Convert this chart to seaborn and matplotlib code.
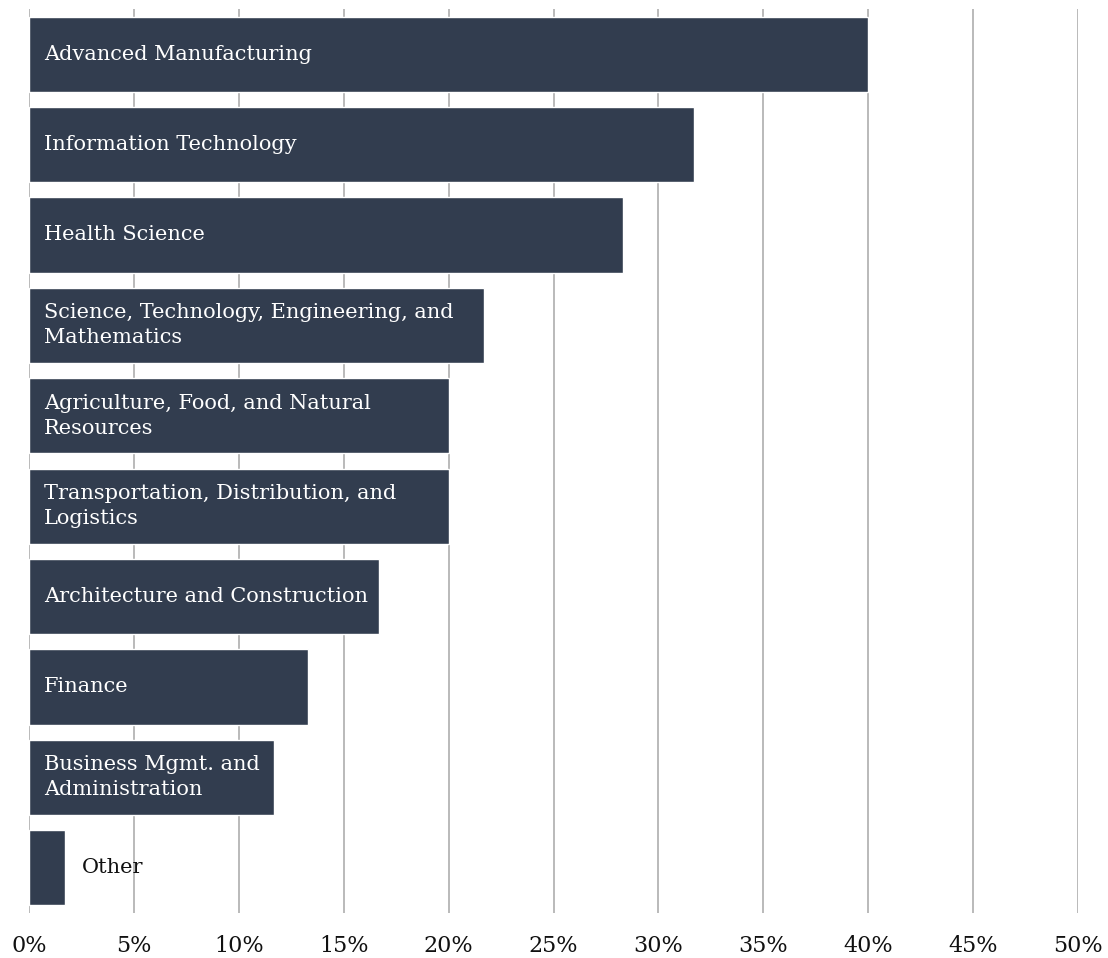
import matplotlib
matplotlib.use("Agg")
import matplotlib.pyplot as plt
import pandas as pd
import seaborn as sns
from matplotlib.ticker import FuncFormatter

# share of respondents by career cluster
categories = [
    "Advanced Manufacturing",
    "Information Technology",
    "Health Science",
    "Science, Technology, Engineering, and\nMathematics",
    "Agriculture, Food, and Natural\nResources",
    "Transportation, Distribution, and\nLogistics",
    "Architecture and Construction",
    "Finance",
    "Business Mgmt. and\nAdministration",
    "Other",
]
shares = [40.0, 31.7, 28.3, 21.7, 20.0, 20.0, 16.7, 13.3, 11.7, 1.7]
x_ticks = [0, 5, 10, 15, 20, 25, 30, 35, 40, 45, 50]

BAR_COLOR = "#323d4f"

df = pd.DataFrame({"category": categories, "share": shares})

sns.set_style("white")
plt.rcParams["font.family"] = ["DejaVu Serif"]

fig = plt.figure(figsize=(11.08, 9.58), dpi=100)
ax = fig.add_axes([29 / 1108, 1 - 913 / 958, 1049 / 1108, 904 / 958])

sns.barplot(data=df, x="share", y="category", orient="h", color=BAR_COLOR,
            saturation=1, width=0.83, ax=ax, zorder=2)

ax.set_xlim(0, 50)
ax.set_ylim(len(categories) - 0.5, -0.5)
ax.set_xticks(x_ticks)
ax.xaxis.set_major_formatter(FuncFormatter(lambda v, _: f"{v:.0f}%"))
ax.grid(axis="x", color="#b4b4b4", linewidth=1.3, zorder=0)
ax.set_axisbelow(True)
for s in ax.spines.values():
    s.set_visible(False)
ax.set_yticks([])
ax.set_xlabel("")
ax.set_ylabel("")
ax.tick_params(axis="x", length=0, pad=16, labelsize=16, labelcolor="#111111")

# labels inside the bars (outside when the bar is too short)
for i, (cat, val) in enumerate(zip(categories, shares)):
    if val < 5:
        ax.text(val + 0.8, i, cat, va="center", ha="left", color="#111111",
                fontsize=15)
    else:
        ax.text(0.7, i, cat, va="center", ha="left", color="white",
                fontsize=15, linespacing=1.4)

fig.savefig("out.png", dpi=100)
